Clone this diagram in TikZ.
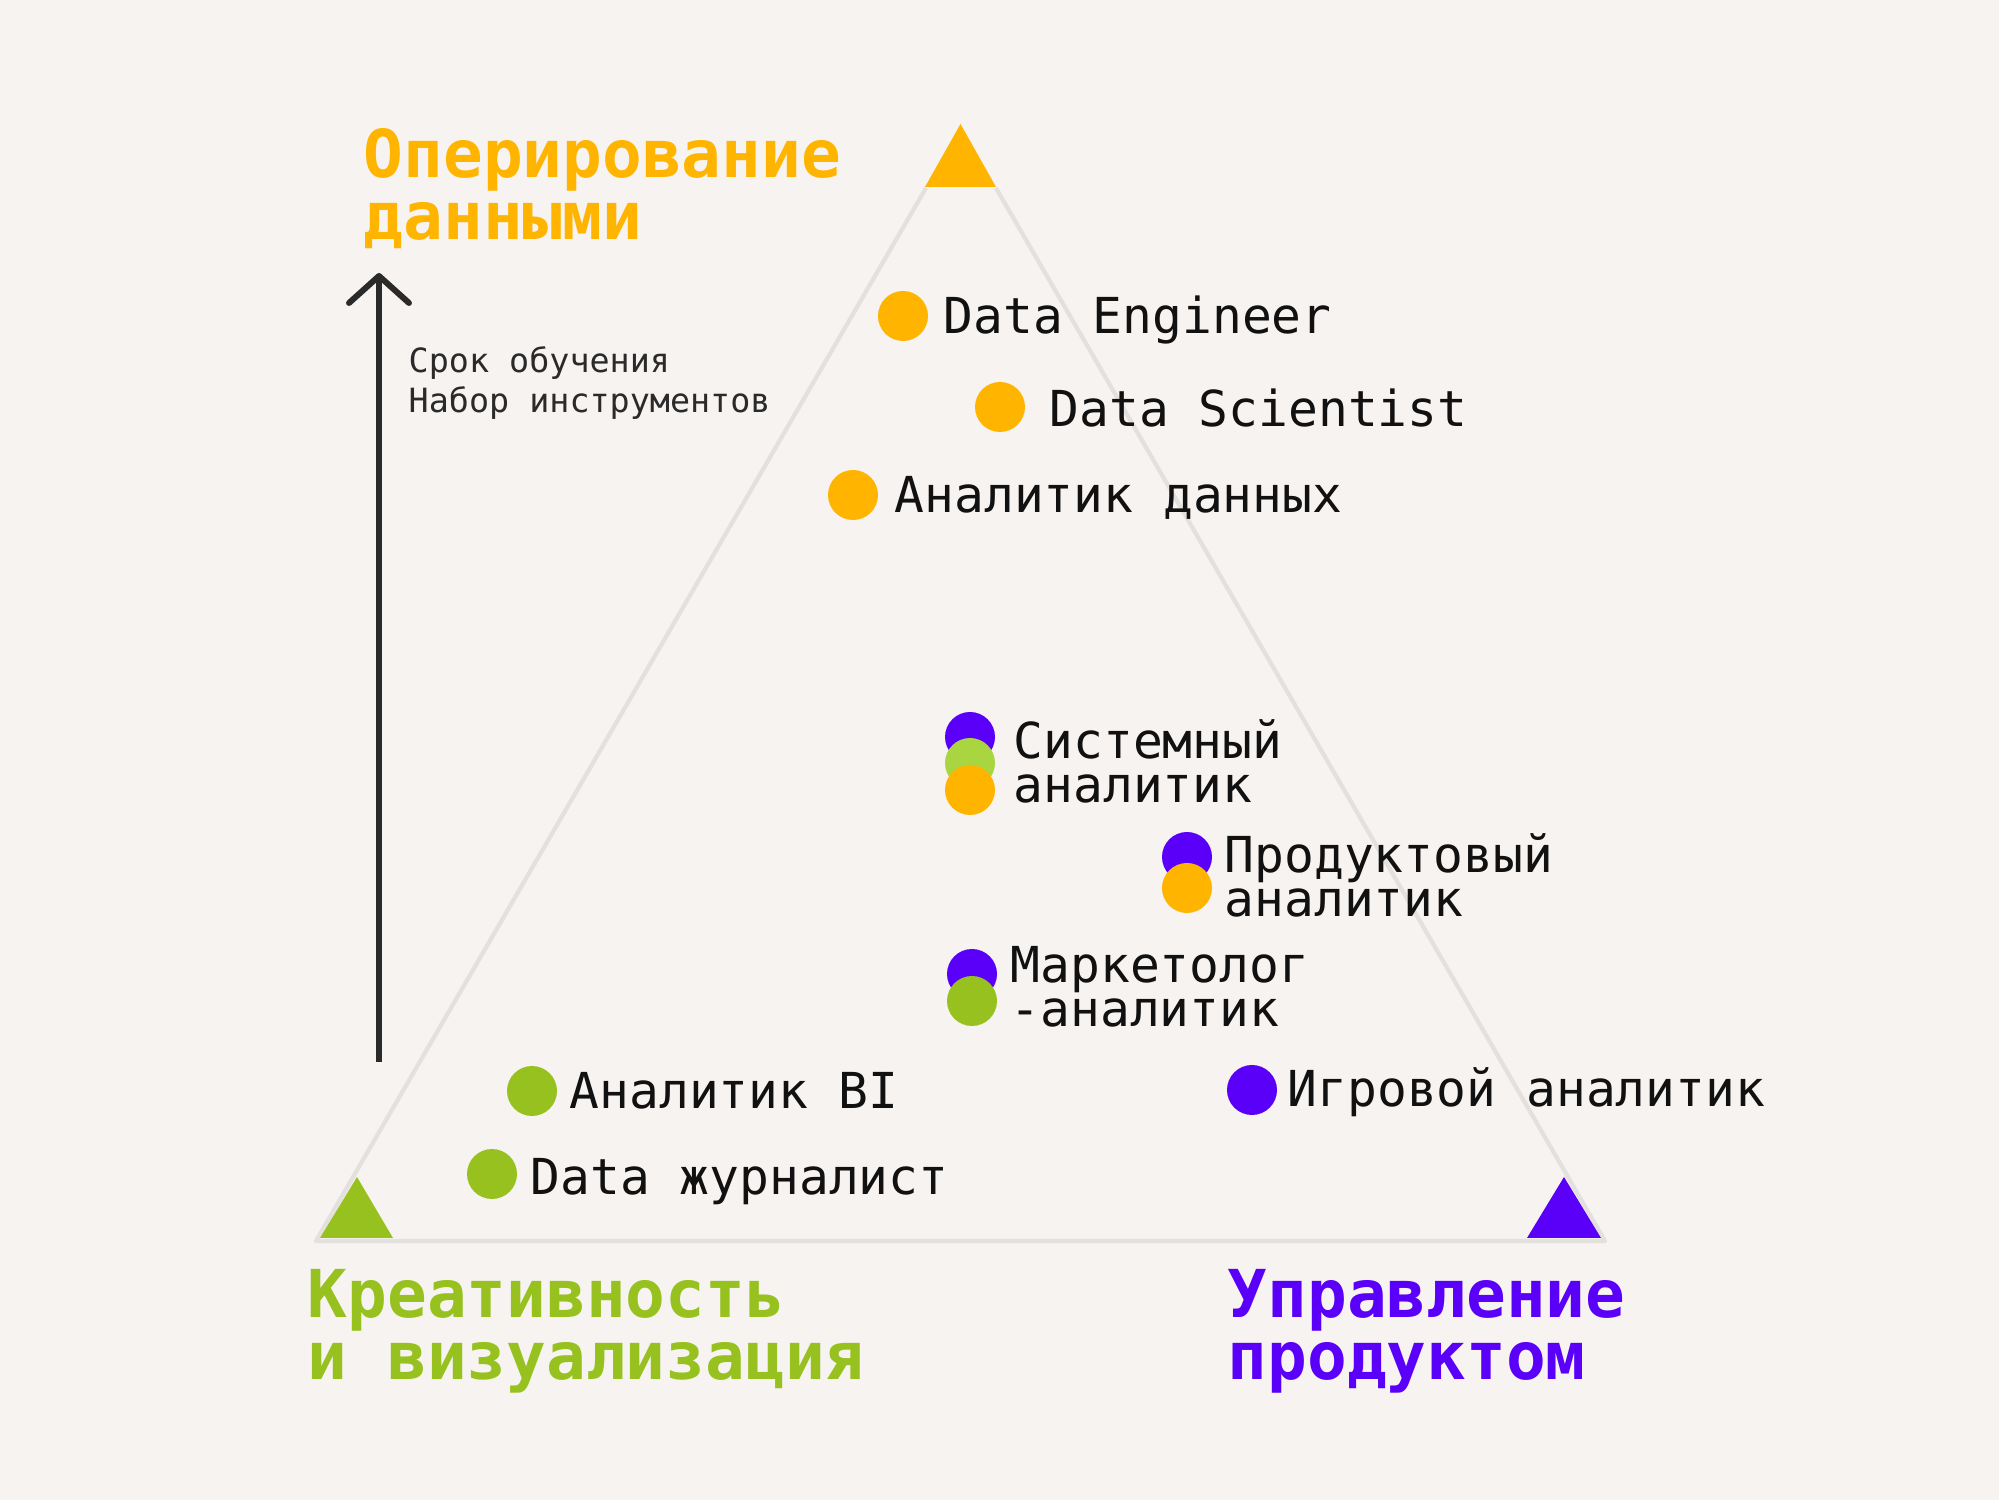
\documentclass[tikz,border=0pt]{standalone}
\usepackage{fontspec}
\setmonofont{DejaVu Sans Mono}
\usetikzlibrary{arrows.meta}

\definecolor{paper}{HTML}{F7F3F1}
\definecolor{frame}{HTML}{E4E0DD}
\definecolor{dataorange}{HTML}{FFB500}
\definecolor{creagreen}{HTML}{97C11F}
\definecolor{lightgreen}{HTML}{A9D540}
\definecolor{prodpurple}{HTML}{5A00F8}
\definecolor{ink}{HTML}{111111}
\definecolor{arrowink}{HTML}{2A2A2A}

\begin{document}
\begin{tikzpicture}[
    dot/.style={circle, inner sep=0pt, minimum size=0.5cm},
    role/.style={anchor=base west, inner sep=0pt, align=left, text=ink,
        font=\ttfamily\fontsize{14.1pt}{12.8pt}\selectfont},
    corner/.style={anchor=base west, inner sep=0pt, align=left,
        font=\ttfamily\bfseries\fontsize{18.8pt}{17.9pt}\selectfont}
]
    % Background and page size
    \fill[paper] (0,0) rectangle (19.99,15);
    \useasboundingbox (0,0) rectangle (19.99,15);

    % Light frame of the triangle
    \draw[frame, line width=1.2pt, line join=round] (9.26,13.12) -- (3.16,2.59) -- (16.05,2.59) -- (9.96,13.12);

    % Corner markers
    \fill[dataorange] (9.605,13.76) -- (9.25,13.13) -- (9.96,13.13) -- cycle;
    \fill[creagreen] (3.57,3.23) -- (3.20,2.62) -- (3.93,2.62) -- cycle;
    \fill[prodpurple] (15.64,3.23) -- (15.27,2.62) -- (16.01,2.62) -- cycle;

    % Corner titles (base = baseline of the last line)
    \node[corner, dataorange] (data title) at (3.63,12.60) {Оперирование\\данными};
    \node[corner, creagreen] (crea title) at (3.07,1.20) {Креативность\\и визуализация};
    \node[corner, prodpurple] (prod title) at (12.27,1.20) {Управление\\продуктом};

    % Arrow on the left
    \coordinate (arrow bottom) at (3.79,4.38);
    \coordinate (arrow top) at (3.79,12.27);
    \draw[arrowink, line width=1.7pt, -{Straight Barb[length=0.27cm, width=0.6cm, line cap=round, line join=round]}] (arrow bottom) -- (arrow top);
    \node[anchor=base west, inner sep=0pt, align=left, text=arrowink, font=\ttfamily\fontsize{9.5pt}{11.4pt}\selectfont] (arrow note) at (4.08,10.87) {Срок обучения\\Набор инструментов};

    % Data roles
    \node[dot, fill=dataorange] (engineer dot) at (9.03,11.84) {};
    \node[role] (engineer) at (9.43,11.66) {Data Engineer};
    \node[dot, fill=dataorange] (scientist dot) at (10.00,10.93) {};
    \node[role] (scientist) at (10.49,10.73) {Data Scientist};
    \node[dot, fill=dataorange] (analyst dot) at (8.53,10.05) {};
    \node[role] (analyst) at (8.94,9.87) {Аналитик данных};

    % Mixed roles
    \node[dot, fill=prodpurple] (system dot a) at (9.70,7.63) {};
    \node[dot, fill=lightgreen] (system dot b) at (9.70,7.37) {};
    \node[dot, fill=dataorange] (system dot c) at (9.70,7.10) {};
    \node[role] (system) at (10.13,6.97) {Системный\\аналитик};

    \node[dot, fill=prodpurple] (product dot a) at (11.87,6.43) {};
    \node[dot, fill=dataorange] (product dot b) at (11.87,6.12) {};
    \node[role] (product) at (12.24,5.83) {Продуктовый\\аналитик};

    \node[dot, fill=prodpurple] (marketing dot a) at (9.72,5.26) {};
    \node[dot, fill=creagreen] (marketing dot b) at (9.72,4.99) {};
    \node[role] (marketing) at (10.10,4.73) {Маркетолог\\-аналитик};

    % Bottom roles
    \node[dot, fill=prodpurple] (game dot) at (12.52,4.10) {};
    \node[role] (game) at (12.87,3.93) {Игровой аналитик};
    \node[dot, fill=creagreen] (bi dot) at (5.32,4.09) {};
    \node[role] (bi) at (5.69,3.91) {Аналитик BI};
    \node[dot, fill=creagreen] (journalist dot) at (4.92,3.26) {};
    \node[role] (journalist) at (5.30,3.05) {Data журналист};
\end{tikzpicture}
\end{document}
